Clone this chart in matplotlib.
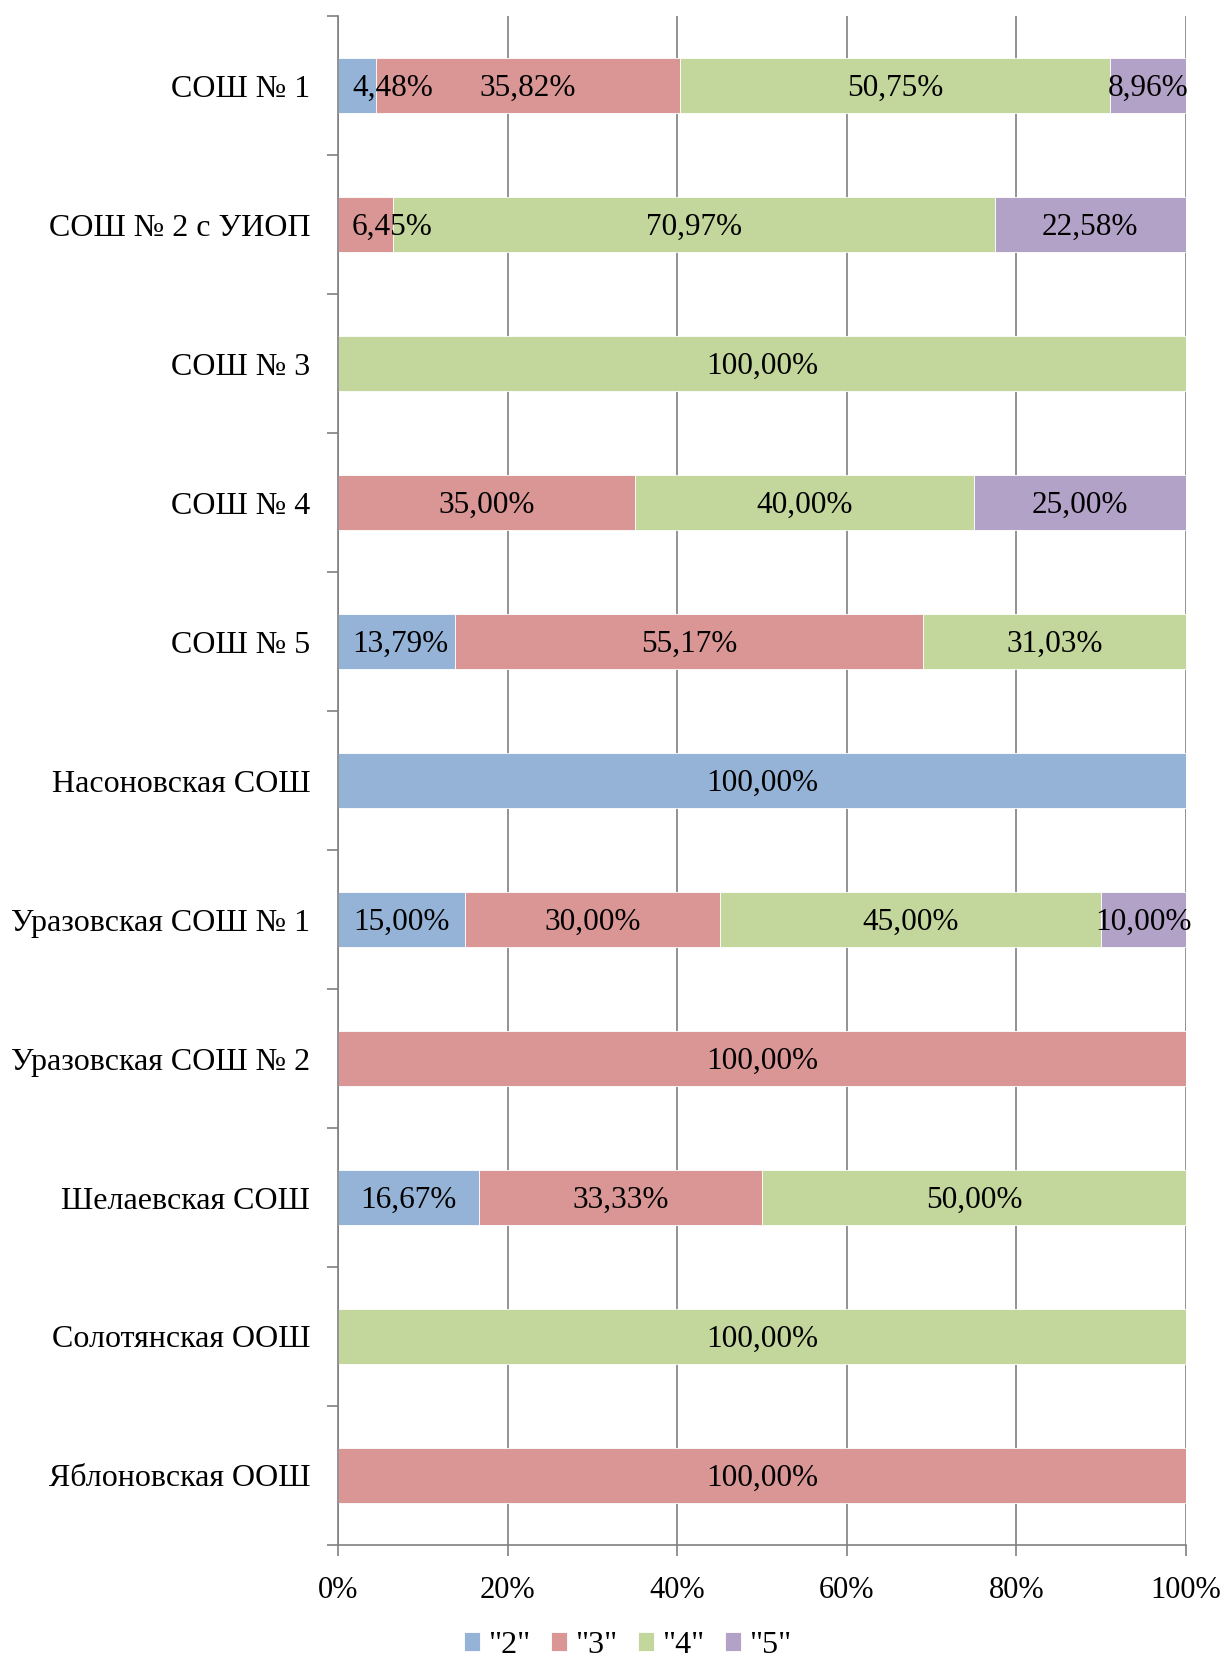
import numpy as np
import matplotlib
matplotlib.use('Agg')
import matplotlib.pyplot as plt
from matplotlib.ticker import FixedLocator

plt.rcParams['font.family'] = ['Liberation Serif', 'DejaVu Serif']

schools = ['СОШ № 1', 'СОШ № 2 с УИОП', 'СОШ № 3', 'СОШ № 4', 'СОШ № 5',
           'Насоновская СОШ', 'Уразовская СОШ № 1', 'Уразовская СОШ № 2',
           'Шелаевская СОШ', 'Солотянская ООШ', 'Яблоновская ООШ']
grade2 = [4.48, 0, 0, 0, 13.79, 100, 15.00, 0, 16.67, 0, 0]
grade3 = [35.82, 6.45, 0, 35.00, 55.17, 0, 30.00, 100, 33.33, 0, 100]
grade4 = [50.75, 70.97, 100, 40.00, 31.03, 0, 45.00, 0, 50.00, 100, 0]
grade5 = [8.96, 22.58, 0, 25.00, 0, 0, 10.00, 0, 0, 0, 0]
series_names = ['"2"', '"3"', '"4"', '"5"']
colors = ['#95B3D7', '#D99694', '#C3D69B', '#B3A2C7']

fig = plt.figure(figsize=(12.26, 16.57), dpi=100)
ax = fig.add_axes([0.2757, 0.0676, 0.6917, 0.9227])

y = np.arange(len(schools))
left = np.zeros(len(schools))
labels = []
for vals, name, col in zip([grade2, grade3, grade4, grade5], series_names, colors):
    vals = np.array(vals)
    ax.barh(y, vals, left=left, height=0.4, color=col, label=name,
            edgecolor='white', linewidth=0.6, zorder=2)
    for i, v in enumerate(vals):
        if v > 0:
            t = ax.text(left[i] + v / 2, y[i] + 0.02, f'{v:.2f}%'.replace('.', ','),
                        ha='center', va='center', fontsize=22.5, zorder=3)
            labels.append(t)
    left += vals

ax.set_xlim(0, 100)
ax.set_ylim(len(schools) - 0.5, -0.5)
ax.set_yticks(y)
ax.set_yticklabels(schools, fontsize=23)
ax.yaxis.set_minor_locator(FixedLocator(np.arange(-0.5, len(schools), 1)))
ax.tick_params(axis='y', which='major', length=0, pad=20)
ax.tick_params(axis='y', which='minor', length=8, color='#808080', width=1.2)
ax.set_xticks(np.arange(0, 101, 20))
ax.set_xticklabels([f'{t}%' for t in range(0, 101, 20)], fontsize=22)
ax.tick_params(axis='x', length=8, color='#808080', width=1.2, pad=14)
ax.grid(axis='x', color='#808080', linewidth=1.2, zorder=0)
ax.set_axisbelow(True)
for s in ['top', 'right']:
    ax.spines[s].set_visible(False)
for s in ['left', 'bottom']:
    ax.spines[s].set_color('#808080')
    ax.spines[s].set_linewidth(1.2)

fig.legend(loc='center', bbox_to_anchor=(0.512, 0.007), ncol=4, frameon=False,
           fontsize=23, handlelength=0.5, handleheight=0.5, handletextpad=0.25,
           columnspacing=0.65)

# keep data labels inside the plot area on the left, like Excel does
fig.canvas.draw()
renderer = fig.canvas.get_renderer()
ax_x0 = ax.get_window_extent().x0
inv = ax.transData.inverted()
for t in labels:
    bb = t.get_window_extent(renderer)
    if bb.x0 < ax_x0 + 14:
        shift = ax_x0 + 14 - bb.x0
        cx = (bb.x0 + bb.x1) / 2 + shift
        x_new = inv.transform((cx, 0))[0]
        t.set_x(x_new)

fig.savefig('out.png', dpi=100)
